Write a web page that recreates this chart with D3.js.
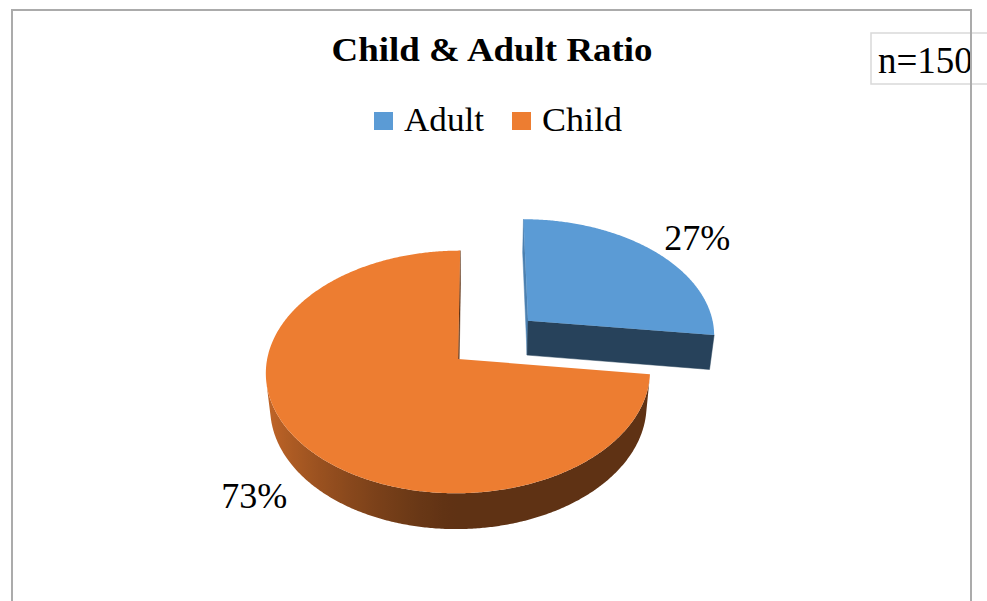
<!DOCTYPE html>
<html>
<head>
<meta charset="utf-8">
<script src="https://cdn.jsdelivr.net/npm/d3@7"></script>
<style>
  html, body { margin: 0; padding: 0; background: #ffffff; }
  svg { display: block; }
  text { font-family: "Liberation Serif", "Times New Roman", Times, serif; fill: #000; }
</style>
</head>
<body>
<script>
// ---- data ----
const categories = ["Adult", "Child"];
const percents = [27, 73];
const sliceColors = ["#5B9BD5", "#ED7D31"];
const explodedSlices = ["Adult"];
const sampleSize = 150;
const titleText = "Child & Adult Ratio";

const W = 987, H = 601;
const svg = d3.select("body").append("svg").attr("width", W).attr("height", H);
const defs = svg.append("defs");

// ---- 3D view of a unit-radius pie disc ----
const view = {
  ox: 478.8, oy: 359,          // screen point of the pie centre plane
  scale: 191,                  // pixels per radius at the centre depth
  dist: 7.3,                   // camera distance, in radii
  tilt: 38.9 * Math.PI / 180,  // elevation of the camera
  camX: 0.108,                 // sideways camera offset, in radii
  height: 0.239,               // disc thickness, in radii
  explode: 0.5                 // pull-out distance of exploded slices
};
const sinT = Math.sin(view.tilt), cosT = Math.cos(view.tilt);
const camera = [view.camX, view.dist * sinT, -view.dist * cosT];

function project(p) {
  const [X, Y, Z] = p;
  const depth = view.dist + Z * cosT - Y * sinT;
  const k = view.dist / depth;
  return [view.ox + view.scale * (X - view.camX) * k,
          view.oy - view.scale * (Z * sinT + Y * cosT) * k,
          depth];
}
const rim = (c, a, r, y) => [c[0] + r * Math.sin(a), y, c[2] + r * Math.cos(a)];

// light comes from the left: walls turned that way are brighter
function shade(base, n) {
  const lit = Math.max(0, -n[0]);
  const b = 0.40 + 0.43 * Math.pow(lit, 1.3);
  const c = d3.rgb(base);
  return d3.rgb(c.r * b, c.g * b, c.b * b).formatHex();
}
const facing = (pts, n) => {
  const m = [0, 1, 2].map(i => d3.mean(pts, p => p[i]));
  return (camera[0] - m[0]) * n[0] + (camera[1] - m[1]) * n[1] + (camera[2] - m[2]) * n[2] > 0;
};

const data = categories.map((c, i) => ({ name: c, value: percents[i], color: sliceColors[i] }));
const arcs = d3.pie().sort(null).value(d => d.value)(data);

const line = d3.line();
const h = view.height;
const step = Math.PI / 360;
const xy = p => [p[0], p[1]];

const slices = arcs.map((a, si) => {
  const mid = (a.startAngle + a.endAngle) / 2;
  const e = explodedSlices.includes(a.data.name) ? view.explode : 0;
  const centre = [e * Math.sin(mid), 0, e * Math.cos(mid)];
  const n = Math.ceil((a.endAngle - a.startAngle) / step);
  const angles = d3.range(n + 1).map(i => a.startAngle + (a.endAngle - a.startAngle) * i / n);

  // outer wall: keep the strips that face the camera, grouped into runs
  const strips = d3.range(n).map(i => {
    const a0 = angles[i], a1 = angles[i + 1], am = (a0 + a1) / 2;
    const pts = [rim(centre, a0, 1, 0), rim(centre, a1, 1, 0), rim(centre, a1, 1, -h), rim(centre, a0, 1, -h)];
    const nrm = [Math.sin(am), 0, Math.cos(am)];
    return { i, a0, a1, am, pts, nrm, vis: facing(pts, nrm) };
  });
  const runs = [];
  strips.forEach(s => {
    if (!s.vis) return;
    const last = runs[runs.length - 1];
    if (last && last[last.length - 1].i === s.i - 1) last.push(s); else runs.push([s]);
  });
  const walls = runs.map((run, ri) => {
    const topPts = [run[0].a0, ...run.map(s => s.a1)].map(t => project(rim(centre, t, 1, 0)));
    const botPts = [run[0].a0, ...run.map(s => s.a1)].map(t => project(rim(centre, t, 1, -h)));
    const outline = [...topPts, ...botPts.reverse()];
    const xs = outline.map(p => p[0]);
    const x0 = d3.min(xs), x1 = d3.max(xs);
    const id = `wall-${si}-${ri}`;
    const stops = run.filter((s, k) => k % 4 === 0 || k === run.length - 1).map(s => ({
      offset: (project(rim(centre, s.am, 1, 0))[0] - x0) / (x1 - x0),
      color: shade(a.data.color, s.nrm)
    })).sort((p, q) => p.offset - q.offset);
    const grad = defs.append("linearGradient").attr("id", id)
      .attr("gradientUnits", "userSpaceOnUse")
      .attr("x1", x0).attr("x2", x1).attr("y1", 0).attr("y2", 0);
    grad.selectAll("stop").data(stops).join("stop")
      .attr("offset", d => d.offset).attr("stop-color", d => d.color);
    return { proj: outline, fill: `url(#${id})`, stroke: "none", depth: d3.mean(outline, p => p[2]) };
  });

  // the two cut faces
  const cuts = [[a.startAngle, -Math.PI / 2], [a.endAngle, Math.PI / 2]].map(([ang, turn]) => {
    const pts = [[centre[0], 0, centre[2]], rim(centre, ang, 1, 0), rim(centre, ang, 1, -h), [centre[0], -h, centre[2]]];
    const nrm = [Math.sin(ang + turn), 0, Math.cos(ang + turn)];
    return { pts, nrm };
  }).filter(f => facing(f.pts, f.nrm)).map(f => {
    const proj = f.pts.map(project);
    const col = shade(a.data.color, f.nrm);
    return { proj, fill: col, stroke: col, depth: d3.mean(proj, p => p[2]) };
  });

  const faces = [...walls, ...cuts].sort((p, q) => q.depth - p.depth);
  const top = [[centre[0], 0, centre[2]], ...angles.map(t => rim(centre, t, 1, 0))].map(project);
  return { arc: a, mid, centre, faces, top, depth: project(centre)[2] };
}).sort((p, q) => q.depth - p.depth);

const pieG = svg.append("g");
slices.forEach(s => {
  const g = pieG.append("g").attr("class", "slice");
  g.selectAll("path.side").data(s.faces).join("path")
    .attr("class", "side")
    .attr("d", f => line(f.proj.map(xy)) + "Z")
    .attr("fill", f => f.fill)
    .attr("stroke", f => f.stroke)
    .attr("stroke-width", 0.5)
    .attr("stroke-linejoin", "round");
  g.append("path")
    .attr("d", line(s.top.map(xy)) + "Z")
    .attr("fill", s.arc.data.color);
});

// ---- data labels, placed just outside each slice ----
slices.forEach(s => {
  const front = Math.cos(s.mid) < 0;
  const p = project(rim(s.centre, s.mid, front ? 1.3 : 1.38, front ? -h * 0.65 : -h * 0.3));
  svg.append("text")
    .attr("x", p[0]).attr("y", p[1])
    .attr("dy", "0.34em")
    .attr("text-anchor", "middle")
    .attr("font-size", 36)
    .text(s.arc.data.value + "%");
});

// ---- title ----
svg.append("text")
  .attr("x", 492).attr("y", 61)
  .attr("text-anchor", "middle")
  .attr("font-size", 33)
  .attr("font-weight", "bold")
  .attr("textLength", 321)
  .attr("lengthAdjust", "spacingAndGlyphs")
  .text(titleText);

// ---- legend ----
const legendX = [374, 512], legendY = 112;
const legend = svg.append("g").selectAll("g").data(data).join("g")
  .attr("transform", (d, i) => `translate(${legendX[i]},${legendY})`);
legend.append("rect").attr("width", 19).attr("height", 18).attr("fill", d => d.color);
legend.append("text").attr("x", 30).attr("y", 19).attr("font-size", 34)
  .attr("textLength", 80).attr("lengthAdjust", "spacingAndGlyphs")
  .text(d => d.name);

// ---- sample size box ----
svg.append("rect")
  .attr("x", 871).attr("y", 33).attr("width", 140).attr("height", 51)
  .attr("fill", "#fff").attr("stroke", "#d9d9d9").attr("stroke-width", 1.5);
svg.append("text")
  .attr("x", 878).attr("y", 73)
  .attr("font-size", 37)
  .text("n=" + sampleSize);

// ---- outer frame ----
svg.append("path")
  .attr("d", `M12,${H} V10 H971 V${H}`)
  .attr("fill", "none").attr("stroke", "#ababab").attr("stroke-width", 2);
</script>
</body>
</html>
